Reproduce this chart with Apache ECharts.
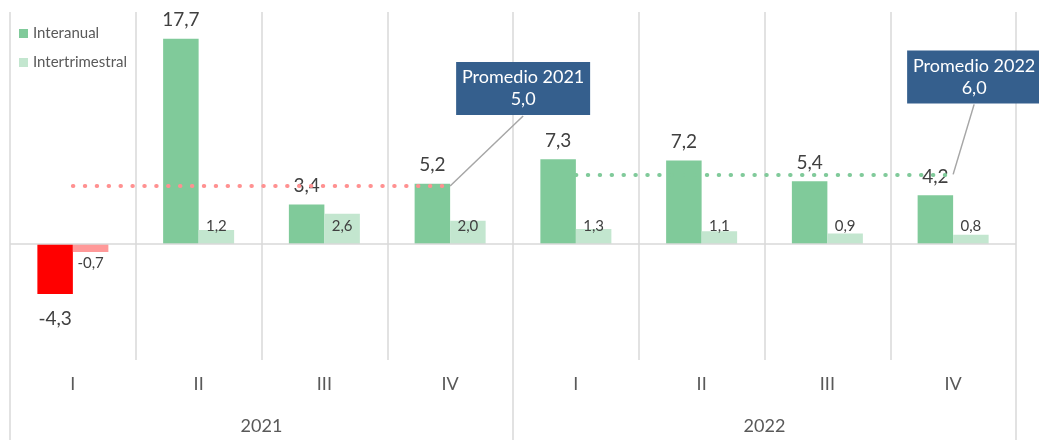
<!DOCTYPE html>
<html>
<head>
  <meta charset="UTF-8">
  <title>Interanual / Intertrimestral</title>
  <style>
  body { margin: 0; background: #fff; }
  #chart { width: 1039px; height: 440px; }
  </style>
  <script src="https://cdn.jsdelivr.net/npm/echarts@6/dist/echarts.min.js"></script>
</head>
<body>
  <div id="chart"></div>
  <script type="text/javascript">
  // datos
  var quarters = ['I', 'II', 'III', 'IV', 'I', 'II', 'III', 'IV'];
  var years = ['2021', '2022'];
  var interanual = [-4.3, 17.7, 3.4, 5.2, 7.3, 7.2, 5.4, 4.2];
  var intertrimestral = [-0.7, 1.2, 2.6, 2.0, 1.3, 1.1, 0.9, 0.8];
  var promedio2021 = 5.0;
  var promedio2022 = 6.0;

  var font = 'Lato';
  var fmt = function (v) { return v.toFixed(1).replace('.', ','); };

  var myChart = echarts.init(document.getElementById('chart'));

  var interData = interanual.map(function (v) {
    if (v < 0) {
      return {
        value: v,
        itemStyle: { color: '#ff0000' },
        label: { position: 'bottom', distance: 15 }
      };
    }
    return v;
  });
  var trimData = intertrimestral.map(function (v) {
    if (v < 0) {
      return {
        value: v,
        itemStyle: { color: '#ff9999' },
        label: { position: 'bottom', distance: 4 }
      };
    }
    return v;
  });

  var option = {
    animation: false,
    textStyle: { fontFamily: font },
    legend: {
      orient: 'vertical',
      left: 14,
      top: 21,
      icon: 'rect',
      itemWidth: 9,
      itemHeight: 9,
      itemGap: 14,
      textStyle: { fontSize: 15, color: '#595959', fontFamily: font },
      data: ['Interanual', 'Intertrimestral']
    },
    grid: { left: 10, right: 23, top: 12, bottom: 80, containLabel: false },
    xAxis: [{
      type: 'category',
      data: quarters,
      axisLine: { show: false, onZero: false },
      axisTick: { show: false },
      axisLabel: { margin: 15, fontSize: 18, color: '#595959', fontFamily: font },
      splitLine: { show: true, interval: 0, lineStyle: { color: '#d9d9d9', width: 1.5 } }
    }, {
      type: 'category',
      data: years,
      position: 'bottom',
      axisLine: { show: false, onZero: false },
      axisTick: { show: true, length: 80, inside: false, lineStyle: { color: '#d9d9d9', width: 1.5 } },
      axisLabel: { margin: 57, fontSize: 18, color: '#595959', fontFamily: font },
      splitLine: { show: false }
    }],
    yAxis: {
      type: 'value',
      min: -10,
      max: 20,
      interval: 5,
      show: false,
      splitLine: { show: false }
    },
    series: [{
      name: 'Interanual',
      type: 'bar',
      barWidth: 35.5,
      barGap: '0%',
      itemStyle: { color: '#80ca9a' },
      label: {
        show: true,
        position: 'top',
        distance: 9,
        fontSize: 19,
        color: '#404040',
        fontFamily: font,
        formatter: function (p) { return fmt(p.value); }
      },
      data: interData
    }, {
      name: 'Intertrimestral',
      type: 'bar',
      barWidth: 35.5,
      itemStyle: { color: '#c3e6cf' },
      label: {
        show: true,
        position: 'insideBottom',
        distance: 10,
        fontSize: 15,
        color: '#404040',
        fontFamily: font,
        formatter: function (p) { return fmt(p.value); }
      },
      data: trimData,
      markLine: {
        silent: true,
        symbol: 'none',
        label: { show: false },
        lineStyle: { color: '#d9d9d9', width: 1.5, type: 'solid' },
        data: [{ yAxis: 0 }]
      }
    }, {
      // líneas de promedio (serie auxiliar sin datos)
      name: 'promedios',
      type: 'line',
      data: [],
      markLine: {
        silent: true,
        symbol: 'none',
        label: { show: false },
        data: [
          [{ coord: [0, promedio2021], lineStyle: { color: '#ff9191' } },
           { coord: [3, promedio2021] }],
          [{ coord: [4, promedio2022], lineStyle: { color: '#80ca9a' } },
           { coord: [7, promedio2022] }]
        ],
        lineStyle: { width: 4, type: [0.5, 11.4], cap: 'round' }
      }
    }]
  };
  myChart.setOption(option);

  // recuadros de promedio anclados al final de cada línea
  function callout(anchor, text, boxDx, lineDx) {
    var w = 134, h = 53;
    var bx = anchor[0] + boxDx, by = anchor[1] - 124;
    return [{
      type: 'rect',
      shape: { x: bx, y: by, width: w, height: h },
      style: { fill: '#355f8d' },
      z: 100
    }, {
      type: 'text',
      x: bx + w / 2,
      y: by + h / 2,
      style: {
        text: text,
        fill: '#ffffff',
        font: '18px ' + font,
        align: 'center',
        verticalAlign: 'middle',
        lineHeight: 22
      },
      z: 101
    }, {
      type: 'line',
      shape: { x1: anchor[0], y1: anchor[1], x2: anchor[0] + lineDx, y2: by + h + 1 },
      style: { stroke: '#a6a6a6', lineWidth: 1.5 },
      z: 99
    }];
  }

  var a1 = myChart.convertToPixel({ xAxisIndex: 0, yAxisIndex: 0 }, [3, promedio2021]);
  var a2 = myChart.convertToPixel({ xAxisIndex: 0, yAxisIndex: 0 }, [7, promedio2022]);
  myChart.setOption({
    graphic: callout(a1, 'Promedio 2021\n' + fmt(promedio2021), 6, 73)
      .concat(callout(a2, 'Promedio 2022\n' + fmt(promedio2022), -46, 21))
  });
  </script>
</body>
</html>
